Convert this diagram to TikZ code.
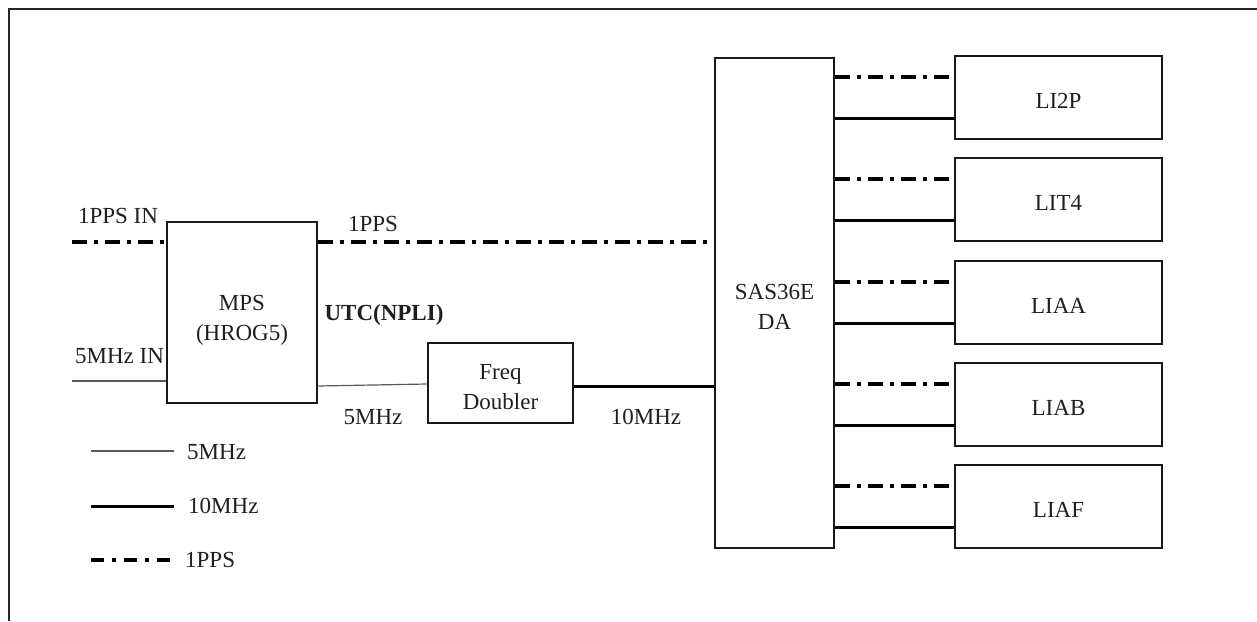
\documentclass[tikz,border=0pt]{standalone}
\usepackage{fontspec}
\setmainfont{Liberation Serif}
\usetikzlibrary{calc}
\tikzset{
  txt/.style={inner sep=0pt, text=black!88, font=\fontsize{23}{30}\selectfont, align=center},
  blockbox/.style={draw=black!90, line width=2.6pt, inner sep=0pt},
  ppsline/.style={draw=black, line width=3.6pt, dash pattern=on 15pt off 7pt on 4pt off 7pt},
  tenline/.style={draw=black, line width=3pt},
  fiveline/.style={draw=black!65, line width=1.2pt},
  framebox/.style={draw=black!85, line width=2pt}
}
\begin{document}
\begin{tikzpicture}[x=1pt,y=-1pt]
\useasboundingbox (0,0) rectangle (1257,621);
\fill[white] (0,0) rectangle (1257,621);
% frame (only top and left edges fall inside the picture)
\draw[framebox] (9,621) -- (9,9) -- (1257,9);

% blocks
\node[blockbox, minimum width=150pt, minimum height=181pt] (mps) at (242,312.5) {};
\node[blockbox, minimum width=145pt, minimum height=80pt] (fd) at (500.5,383) {};
\node[blockbox, minimum width=119pt, minimum height=490pt] (sas) at (774.5,303) {};
\node[blockbox, minimum width=207pt, minimum height=83pt] (b1) at (1058.5,97.5) {};
\node[blockbox, minimum width=207pt, minimum height=83pt] (b2) at (1058.5,199.5) {};
\node[blockbox, minimum width=207pt, minimum height=83pt] (b3) at (1058.5,302.5) {};
\node[blockbox, minimum width=207pt, minimum height=83pt] (b4) at (1058.5,404.5) {};
\node[blockbox, minimum width=207pt, minimum height=83pt] (b5) at (1058.5,506.5) {};

% block texts
\node[txt] (mpst) at ($(mps)+(0,8)$) {MPS\\(HROG5)};
\node[txt] (fdt) at ($(fd)+(0,4)$) {Freq\\Doubler};
\node[txt] (sast) at ($(sas)+(0,3.5)$) {SAS36E\\DA};
\node[txt] (b1t) at ($(b1)+(0,3)$) {LI2P};
\node[txt] (b2t) at ($(b2)+(0,3)$) {LIT4};
\node[txt] (b3t) at ($(b3)+(0,3)$) {LIAA};
\node[txt] (b4t) at ($(b4)+(0,3)$) {LIAB};
\node[txt] (b5t) at ($(b5)+(0,3)$) {LIAF};

% inputs
\coordinate (pin) at (72,242);
\coordinate (fin) at (72,381);
\draw[ppsline] (pin) -- (pin -| mps.west);
\draw[fiveline] (fin) -- (fin -| mps.west);

% MPS outputs
\draw[ppsline] (pin -| mps.east) -- (pin -| sas.west);
\draw[fiveline] ($(mps.east)+(0,73.5)$) -- ($(fd.west)+(0,1)$);
\coordinate (ten) at ($(fd.east)+(0,3)$);
\draw[tenline] (ten) -- (ten -| sas.west);

% distribution to receivers
\foreach \b in {b1,b2,b3,b4,b5}{
  \coordinate (d\b) at ($(\b.west)+(0,-20.5)$);
  \coordinate (s\b) at ($(\b.west)+(0,20.5)$);
  \draw[ppsline] (d\b -| sas.east) -- ($(d\b)+(-4,0)$);
  \draw[tenline] (s\b -| sas.east) -- (s\b);
}

% labels
\node[txt] (l1ppsin) at (118,216) {1PPS IN};
\node[txt] (l5in) at (119.5,356) {5MHz IN};
\node[txt] (l1pps) at (373,224) {1PPS};
\node[txt, font=\fontsize{23}{30}\selectfont\bfseries] (lutc) at (384,315) {UTC(NPLI)};
\node[txt] (l5out) at (373,417) {5MHz};
\node[txt] (l10) at (646,417) {10MHz};

% legend
\coordinate (g1a) at (91,451); \coordinate (g1b) at (174,451);
\coordinate (g2a) at (91,506); \coordinate (g2b) at (174,506);
\coordinate (g3a) at (91,560); \coordinate (g3b) at (174,560);
\draw[fiveline] (g1a) -- (g1b);
\draw[tenline] (g2a) -- (g2b);
\draw[ppsline, dash pattern=on 13pt off 8pt on 4pt off 8pt] (g3a) -- (g3b);
\node[txt, anchor=west] (g1t) at (187,452) {5MHz};
\node[txt, anchor=west] (g2t) at (188,506) {10MHz};
\node[txt, anchor=west] (g3t) at (185,560) {1PPS};
\end{tikzpicture}
\end{document}
